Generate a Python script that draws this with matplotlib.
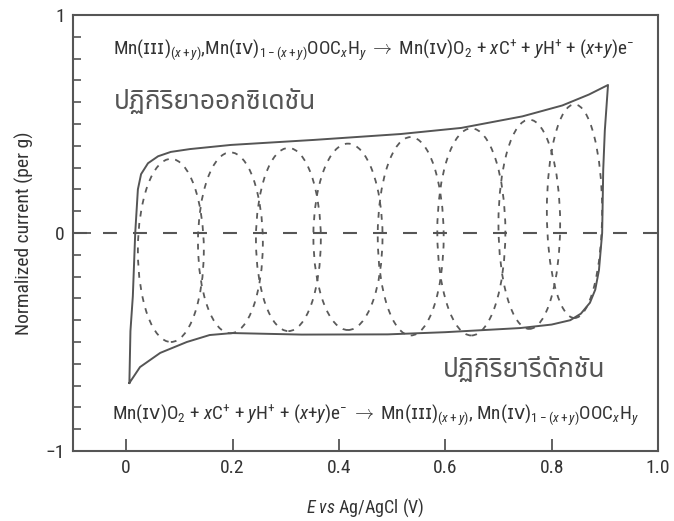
import matplotlib
matplotlib.use("Agg")
import matplotlib.pyplot as plt
from matplotlib import font_manager as fm
from matplotlib.ft2font import FT2Font
from matplotlib.patches import Ellipse
from matplotlib.ticker import MultipleLocator

# ---------------- data ----------------
# solid CV loop (E in V, normalized current)
cv_x = [0.006, 0.008, 0.0125, 0.017, 0.022, 0.028, 0.041, 0.060, 0.084, 0.12,
        0.197, 0.353, 0.516, 0.63, 0.745, 0.82, 0.87, 0.906,
        0.900, 0.897, 0.895, 0.889, 0.882, 0.872, 0.855, 0.835, 0.80,
        0.741, 0.60, 0.492, 0.33, 0.2, 0.157, 0.114, 0.064, 0.026, 0.006]
cv_y = [-0.688, -0.45, -0.29, 0.0, 0.20, 0.27, 0.32, 0.352, 0.372, 0.385,
        0.404, 0.427, 0.454, 0.482, 0.535, 0.585, 0.635, 0.679,
        0.47, 0.29, 0.0, -0.17, -0.26, -0.32, -0.37, -0.40, -0.42,
        -0.436, -0.455, -0.465, -0.466, -0.459, -0.468, -0.50, -0.55, -0.615, -0.688]

# dotted elementary loops: centre E, half width, top and bottom current
loop_center = [0.084, 0.196, 0.305, 0.417, 0.535, 0.649, 0.758, 0.843]
loop_halfw = [0.062, 0.061, 0.061, 0.065, 0.062, 0.064, 0.058, 0.052]
loop_top = [0.34, 0.37, 0.39, 0.41, 0.44, 0.48, 0.52, 0.59]
loop_bottom = [-0.50, -0.46, -0.45, -0.445, -0.47, -0.47, -0.44, -0.39]

x_ticks = [0, 0.2, 0.4, 0.6, 0.8, 1.0]
x_ticklabels = ["0", "0.2", "0.4", "0.6", "0.8", "1.0"]
y_ticks = [-1, 0, 1]
y_ticklabels = ["\u22121", "0", "1"]

ox_text = "ปฏิกิริยาออกซิเดชัน"
red_text = "ปฏิกิริยารีดักชัน"
eq_top = (r"Mn($\mathsf{ɪɪɪ}$)$_{(x+y)}$,Mn($\mathsf{ɪᴠ}$)$_{1-(x+y)}$OOC$_x$H$_y$ $\rightarrow$ "
          r"Mn($\mathsf{ɪᴠ}$)O$_2$ + $x$C$^{+}$ + $y$H$^{+}$ + ($x$+$y$)e$^{-}$")
eq_bot = (r"Mn($\mathsf{ɪᴠ}$)O$_2$ + $x$C$^{+}$ + $y$H$^{+}$ + ($x$+$y$)e$^{-}$ $\rightarrow$ "
          r"Mn($\mathsf{ɪɪɪ}$)$_{(x+y)}$, Mn($\mathsf{ɪᴠ}$)$_{1-(x+y)}$OOC$_x$H$_y$")


# ---------------- fonts ----------------
def pick(names):
    for n in names:
        try:
            fm.findfont(fm.FontProperties(family=n), fallback_to_default=False)
            return n
        except Exception:
            pass
    return "DejaVu Sans"


def thai_font():
    pref = ["Noto Sans Thai", "Noto Sans Thai UI", "Loma", "Garuda", "Sarabun",
            "Tlwg Typo", "Umpush", "Kinnari", "Norasi"]
    found = {}
    for f in fm.fontManager.ttflist:
        try:
            ft = FT2Font(f.fname)
            if ft.get_char_index(0x0E1B) and ft.get_char_index(0x0E34):
                found.setdefault(f.name, f.fname)
        except Exception:
            pass
    for p in pref:
        if p in found:
            return p
    if found:
        return sorted(found)[0]
    return "DejaVu Sans"


narrow = pick(["Liberation Sans Narrow", "Roboto Condensed", "Open Sans Condensed",
               "Liberation Sans", "DejaVu Sans"])
thai = thai_font()
plt.rcParams["font.family"] = [narrow, "DejaVu Sans"]
plt.rcParams["mathtext.fontset"] = "custom"
plt.rcParams["mathtext.rm"] = narrow
plt.rcParams["mathtext.it"] = narrow + ":italic"
plt.rcParams["mathtext.bf"] = narrow + ":bold"
plt.rcParams["mathtext.sf"] = "DejaVu Sans"

gray = "#555555"
dark = "#333333"

fig = plt.figure(figsize=(6.74, 5.21), dpi=100)
ax = fig.add_axes([73 / 674, 1 - 451 / 521, 585 / 674, 436 / 521])

# zero line
ax.axhline(0, color=gray, lw=1.5, linestyle=(0, (6.7, 7.7)))

# dotted loops
for c, hw, t, b in zip(loop_center, loop_halfw, loop_top, loop_bottom):
    e = Ellipse((c, (t + b) / 2), 2 * hw, t - b, fill=False,
                edgecolor="#5a5a5a", lw=1.3, linestyle=(0, (3.2, 3.6)))
    ax.add_patch(e)

# solid loop
ax.plot(cv_x, cv_y, color=gray, lw=1.4, solid_joinstyle="round")

ax.set_xlim(-0.1, 1.0)
ax.set_ylim(-1, 1)
ax.set_xticks(x_ticks)
ax.set_xticklabels(x_ticklabels)
ax.set_yticks(y_ticks)
ax.set_yticklabels(y_ticklabels)
ax.yaxis.set_minor_locator(MultipleLocator(0.1))
ax.tick_params(axis="both", which="major", direction="in", length=8.5,
               width=1.3, color=gray, labelsize=14, labelcolor=dark, pad=6)
ax.tick_params(axis="y", which="major", length=13, pad=6)
ax.tick_params(axis="y", which="minor", direction="in", length=6,
               width=1.2, color=gray)
for s in ax.spines.values():
    s.set_color(gray)
    s.set_linewidth(1.5)

ax.set_ylabel("Normalized current (per g)", fontsize=14, color=dark, labelpad=8)
ax.set_xlabel(r"$E$ $vs$ Ag/AgCl (V)", fontsize=13, color=dark, labelpad=14)

ax.text(0.068, 0.92, eq_top, transform=ax.transAxes, fontsize=13.8,
        color=dark, va="center", ha="left")
ax.text(0.067, 0.084, eq_bot, transform=ax.transAxes, fontsize=13.8,
        color=dark, va="center", ha="left")
ax.text(0.07, 0.80, ox_text, transform=ax.transAxes, fontsize=19,
        color=gray, va="center", ha="left", family=[thai, "DejaVu Sans"])
ax.text(0.632, 0.185, red_text, transform=ax.transAxes, fontsize=19,
        color=gray, va="center", ha="left", family=[thai, "DejaVu Sans"])

fig.savefig("out.png", dpi=100)
